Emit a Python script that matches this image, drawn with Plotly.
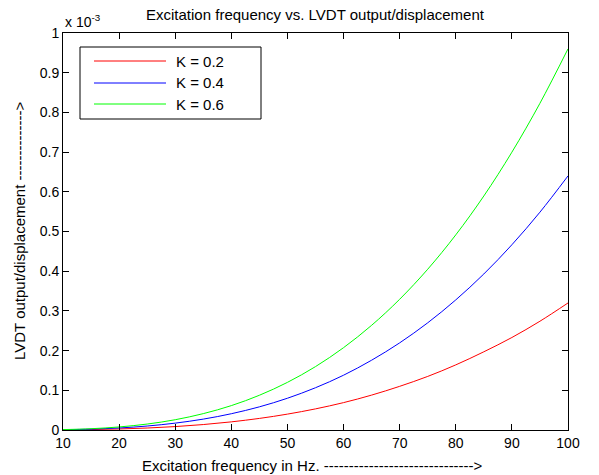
import plotly.graph_objects as go

# Excitation frequency (Hz)
freq = [10, 15, 20, 25, 30, 35, 40, 45, 50, 55, 60, 65, 70, 75, 80, 85, 90, 95, 100]
# LVDT output/displacement, in units of 1e-3
k02 = [0.0003, 0.0011, 0.0026, 0.005, 0.0086, 0.0137, 0.0205, 0.0292, 0.040, 0.0532,
       0.069, 0.0879, 0.110, 0.135, 0.164, 0.197, 0.233, 0.274, 0.320]
k04 = [0.0006, 0.0022, 0.0051, 0.010, 0.0173, 0.0274, 0.041, 0.0583, 0.080, 0.1065,
       0.138, 0.1758, 0.2195, 0.270, 0.3277, 0.393, 0.4666, 0.5487, 0.640]
k06 = [0.001, 0.0032, 0.0077, 0.015, 0.0259, 0.0412, 0.0614, 0.0875, 0.120, 0.1597,
       0.2074, 0.2637, 0.3293, 0.405, 0.4915, 0.5895, 0.6998, 0.823, 0.960]
names = ["K = 0.2", "K = 0.4", "K = 0.6"]
colors = ["#ff0000", "#0000ff", "#00ff00"]
xticks = [10, 20, 30, 40, 50, 60, 70, 80, 90, 100]
yticks = [0, 0.1, 0.2, 0.3, 0.4, 0.5, 0.6, 0.7, 0.8, 0.9, 1]
ytick_labels = ["0", "0.1", "0.2", "0.3", "0.4", "0.5", "0.6", "0.7", "0.8", "0.9", "1"]

# page has an 8px body margin; figure sized to fit the 599x475 window
OFF = 8
W, H = 599 - OFF, 475 - OFF
PL, PR, PT, PB = 63, 568, 33, 430  # plot box in page pixels
ml, mr, mt, mb = PL - OFF, W - (PR - OFF), PT - OFF, H - (PB - OFF)


def px(xp):
    return (xp - PL) / (PR - PL)


def py(yp):
    return (PB - yp) / (PB - PT)


fig = go.Figure()
for ys, nm, c in zip([k02, k04, k06], names, colors):
    fig.add_trace(go.Scatter(x=freq, y=ys, mode="lines", name=nm, showlegend=False,
                             line=dict(color=c, width=1, shape="spline")))

font = "Liberation Sans, Arial, sans-serif"
axis_common = dict(showline=True, linecolor="black", linewidth=1, mirror="ticks",
                   ticks="inside", ticklen=6, tickcolor="black", showgrid=False,
                   zeroline=False, automargin=False,
                   tickfont=dict(family=font, size=14, color="black"))

fig.update_layout(
    width=W, height=H,
    margin=dict(l=ml, r=mr, t=mt, b=mb, autoexpand=False),
    paper_bgcolor="white", plot_bgcolor="white",
    font=dict(family=font, size=15, color="black"),
    title=dict(text="Excitation frequency vs. LVDT output/displacement",
               x=(315 - OFF) / W, xanchor="center", y=1 - 1 / H, yanchor="top",
               font=dict(family=font, size=15, color="black")),
    xaxis=dict(range=[10, 100], tickvals=xticks, **axis_common),
    yaxis=dict(range=[0, 1], tickvals=yticks, ticktext=ytick_labels, **axis_common),
    showlegend=False,
)

# axis titles
fig.add_annotation(text="Excitation frequency in Hz. " + "-" * 30 + ">",
                   xref="paper", yref="paper", x=px(312), y=py(465),
                   xanchor="center", yanchor="middle", showarrow=False,
                   font=dict(family=font, size=15, color="black"))
fig.add_annotation(text="LVDT output/displacement " + "-" * 14 + ">",
                   xref="paper", yref="paper", x=px(20), y=py(231), textangle=-90,
                   xanchor="center", yanchor="middle", showarrow=False,
                   font=dict(family=font, size=15, color="black"))
# exponent label
fig.add_annotation(text="x 10<sup>-3</sup>", xref="paper", yref="paper", x=0, y=1,
                   xanchor="left", yanchor="bottom", yshift=1, showarrow=False,
                   font=dict(family=font, size=14, color="black"))

# legend box (MATLAB style)
fig.add_shape(type="rect", xref="paper", yref="paper", x0=px(80), x1=px(261),
              y0=py(119), y1=py(47), line=dict(color="black", width=1), fillcolor="white",
              layer="above")
row_y = [61, 83, 104]
for nm, c, ry in zip(names, colors, row_y):
    fig.add_shape(type="line", xref="paper", yref="paper", x0=px(94), x1=px(166),
                  y0=py(ry), y1=py(ry), line=dict(color=c, width=1), layer="above")
    fig.add_annotation(text=nm, xref="paper", yref="paper", x=px(174), y=py(ry),
                       xanchor="left", yanchor="middle", showarrow=False,
                       font=dict(family=font, size=15, color="black"))

fig.write_html("out.html")
